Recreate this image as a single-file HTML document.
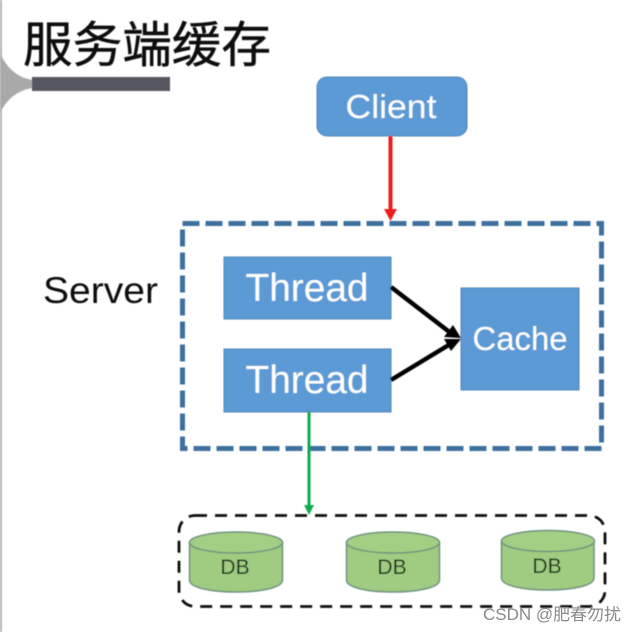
<!DOCTYPE html>
<html><head><meta charset="utf-8">
<style>
html,body{margin:0;padding:0;background:#fff}
svg{display:block}
text{font-family:"Liberation Sans","Noto Sans CJK SC",sans-serif}
</style></head>
<body>
<svg width="636" height="632" viewBox="0 0 636 632" xmlns="http://www.w3.org/2000/svg">
<defs>
<filter id="b" x="-5%" y="-5%" width="110%" height="110%"><feGaussianBlur stdDeviation="0.6"/></filter>
</defs>
<rect width="636" height="632" fill="#fff"/>
<g filter="url(#b)">
<rect x="0" y="0" width="2" height="632" fill="#b5b5b5"/>
<path d="M0 53 Q10 76 32 80 L32 88 Q10 92 0 113 Z" fill="#a9a9a9"/>
<rect x="32" y="77" width="138" height="14" fill="#55565f"/>
<text x="23" y="62" font-size="49" fill="#111" stroke="#111" stroke-width="0.5" textLength="248" lengthAdjust="spacingAndGlyphs">服务端缓存</text>

<rect x="317" y="77" width="150" height="59" rx="10" fill="#5b9ad5" stroke="#4f86b9" stroke-width="1"/>
<text x="391" y="118" font-size="33" fill="#fff" text-anchor="middle" textLength="91" lengthAdjust="spacingAndGlyphs">Client</text>

<line x1="390.500" y1="136" x2="390.500" y2="211" stroke="#ee1c1c" stroke-width="4"/>
<path d="M384 209 L397 209 L390.500 221 Z" fill="#ee1c1c"/>

<rect x="182.500" y="223.500" width="419" height="225" fill="none" stroke="#3c6f9f" stroke-width="5" stroke-dasharray="17 6"/>

<text x="43" y="303" font-size="37" fill="#111" textLength="115" lengthAdjust="spacingAndGlyphs">Server</text>

<rect x="224" y="257" width="167" height="62" fill="#5b9ad5" stroke="#4f86b9"/>
<text x="307" y="301" font-size="39" fill="#fff" text-anchor="middle" textLength="123" lengthAdjust="spacingAndGlyphs">Thread</text>
<rect x="224" y="349" width="167" height="63" fill="#5b9ad5" stroke="#4f86b9"/>
<text x="307" y="393" font-size="39" fill="#fff" text-anchor="middle" textLength="123" lengthAdjust="spacingAndGlyphs">Thread</text>
<rect x="461" y="288" width="118" height="102" fill="#5b9ad5" stroke="#4f86b9"/>
<text x="520" y="350" font-size="33" fill="#fff" text-anchor="middle" textLength="95" lengthAdjust="spacingAndGlyphs">Cache</text>

<line x1="391" y1="287" x2="452" y2="334" stroke="#000" stroke-width="4.500"/>
<path d="M461 338 L444 337 L453 325 Z" fill="#000"/>
<line x1="391" y1="380" x2="452" y2="343" stroke="#000" stroke-width="4.500"/>
<path d="M461 339 L451 351 L444 339 Z" fill="#000"/>

<line x1="309" y1="412" x2="309" y2="506" stroke="#0bab4f" stroke-width="3"/>
<path d="M304 505 L314 505 L309 515 Z" fill="#0bab4f"/>

<rect x="179" y="515.500" width="426" height="91" rx="16" fill="none" stroke="#111" stroke-width="2.800" stroke-dasharray="12 8"/>

<g>
<path d="M189.500 543 V580 C189.500 596 282.500 596 282.500 580 V543 Z" fill="#9fcc80" stroke="#6f9080" stroke-width="1.500"/>
<ellipse cx="236" cy="542.500" rx="46.500" ry="10.500" fill="#a3cf84" stroke="#6f9080" stroke-width="1.500"/>
<text x="235" y="574" font-size="21" fill="#0f2a14" text-anchor="middle">DB</text>
</g>
<g>
<path d="M346.500 543 V580 C346.500 596 439.500 596 439.500 580 V543 Z" fill="#9fcc80" stroke="#6f9080" stroke-width="1.500"/>
<ellipse cx="393" cy="542.500" rx="46.500" ry="10.500" fill="#a3cf84" stroke="#6f9080" stroke-width="1.500"/>
<text x="392" y="574" font-size="21" fill="#0f2a14" text-anchor="middle">DB</text>
</g>
<g>
<path d="M501.500 541 V578 C501.500 594 594 594 594 578 V541 Z" fill="#9fcc80" stroke="#6f9080" stroke-width="1.500"/>
<ellipse cx="548" cy="541" rx="46.500" ry="10.500" fill="#a3cf84" stroke="#6f9080" stroke-width="1.500"/>
<text x="547" y="573" font-size="21" fill="#0f2a14" text-anchor="middle">DB</text>
</g>
</g>
<text x="483" y="620" font-size="16.500" fill="#8a8a8a" textLength="138" lengthAdjust="spacingAndGlyphs">CSDN @肥春勿扰</text>
</svg>
</body></html>
